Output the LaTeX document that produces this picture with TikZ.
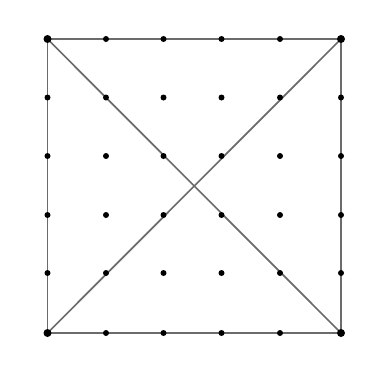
\documentclass[tikz,border=0pt]{standalone}
\begin{document}
\begin{tikzpicture}[x=1pt,y=-1pt,
  edge/.style={draw=black!58, line width=1.7pt},
  dot/.style={circle, fill=black, inner sep=0pt, minimum size=6pt},
  bigdot/.style={circle, fill=black, inner sep=0pt, minimum size=8pt}]
\useasboundingbox (0,0) rectangle (381,370);
% grid points
\foreach \i/\x in {0/47.5,1/106,2/163.5,3/221.5,4/280,5/341}{
  \foreach \j/\y in {0/39,1/97.5,2/156,3/215,4/273,5/333}{
    \coordinate (p\i\j) at (\x,\y);
  }
}
% square and diagonals
\draw[edge] (p00) -- (p50) -- (p55) -- (p05) -- cycle;
\draw[edge] (p00) -- (p55);
\draw[edge] (p50) -- (p05);
% dots
\foreach \i in {0,...,5}{
  \foreach \j in {0,...,5}{
    \node[dot] (d\i\j) at (p\i\j) {};
  }
}
\node[bigdot] (tl) at (p00) {};
\node[bigdot] (tr) at (p50) {};
\node[bigdot] (bl) at (p05) {};
\node[bigdot] (br) at (p55) {};
\end{tikzpicture}
\end{document}
